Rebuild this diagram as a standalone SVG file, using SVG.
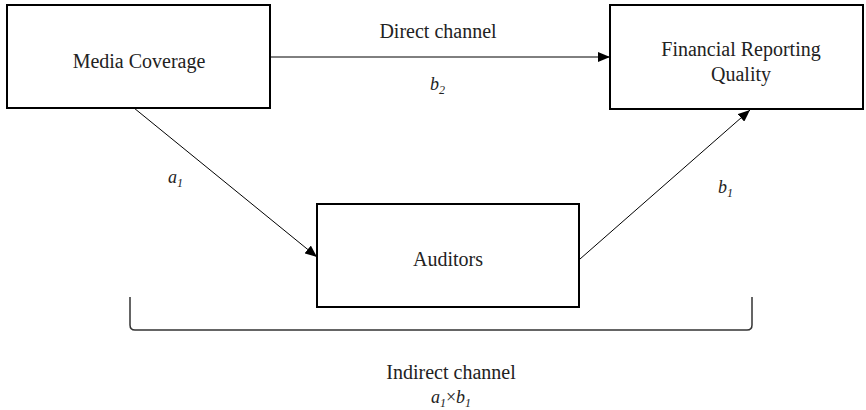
<svg xmlns="http://www.w3.org/2000/svg" width="866" height="410" viewBox="0 0 866 410">
<defs>
<marker id="ah" markerWidth="12" markerHeight="10" refX="12" refY="5" orient="auto" markerUnits="userSpaceOnUse">
<path d="M0,0 L12,5 L0,10 Z" fill="#000"/>
</marker>
<style>
.box{fill:#fff;stroke:#000;stroke-width:2}
.t{font-family:"Liberation Serif","Times New Roman",serif;font-size:20px;fill:#222;text-anchor:middle}
.i{font-family:"Liberation Serif","Times New Roman",serif;font-size:18px;font-style:italic;fill:#222}
.s{font-size:12px}
.c{stroke:#000;stroke-width:1;fill:none}
</style>
</defs>
<rect width="866" height="410" fill="#fff"/>
<g id="media">
<rect class="box" x="7" y="5" width="263" height="103"/>
<text class="t" x="139" y="68">Media Coverage</text>
</g>
<g id="frq">
<rect class="box" x="610" y="5" width="253" height="104"/>
<text class="t" x="741" y="56">Financial Reporting</text>
<text class="t" x="741" y="81">Quality</text>
</g>
<g id="auditors">
<rect class="box" x="317" y="204" width="262" height="103"/>
<text class="t" x="448" y="266">Auditors</text>
</g>
<g id="connectors">
<line class="c" x1="270" y1="57" x2="610" y2="57" marker-end="url(#ah)"/>
<line class="c" x1="134" y1="108" x2="317" y2="257" marker-end="url(#ah)"/>
<line class="c" x1="580" y1="259" x2="750" y2="110" marker-end="url(#ah)"/>
<path d="M130,297 L130,325 Q130,330 135,330 L747,330 Q752,330 752,325 L752,297" fill="none" stroke="#333" stroke-width="1.5"/>
</g>
<g id="labels">
<text class="t" x="438" y="38">Direct channel</text>
<text class="i" x="430" y="90">b<tspan class="s" dy="4">2</tspan></text>
<text class="i" x="168" y="183">a<tspan class="s" dy="4">1</tspan></text>
<text class="i" x="718" y="193">b<tspan class="s" dy="4">1</tspan></text>
<text class="t" x="451" y="379">Indirect channel</text>
<text class="i" x="451" y="403" text-anchor="middle">a<tspan class="s" dy="4">1</tspan><tspan dy="-4" font-style="normal">×</tspan>b<tspan class="s" dy="4">1</tspan></text>
</g>
</svg>
